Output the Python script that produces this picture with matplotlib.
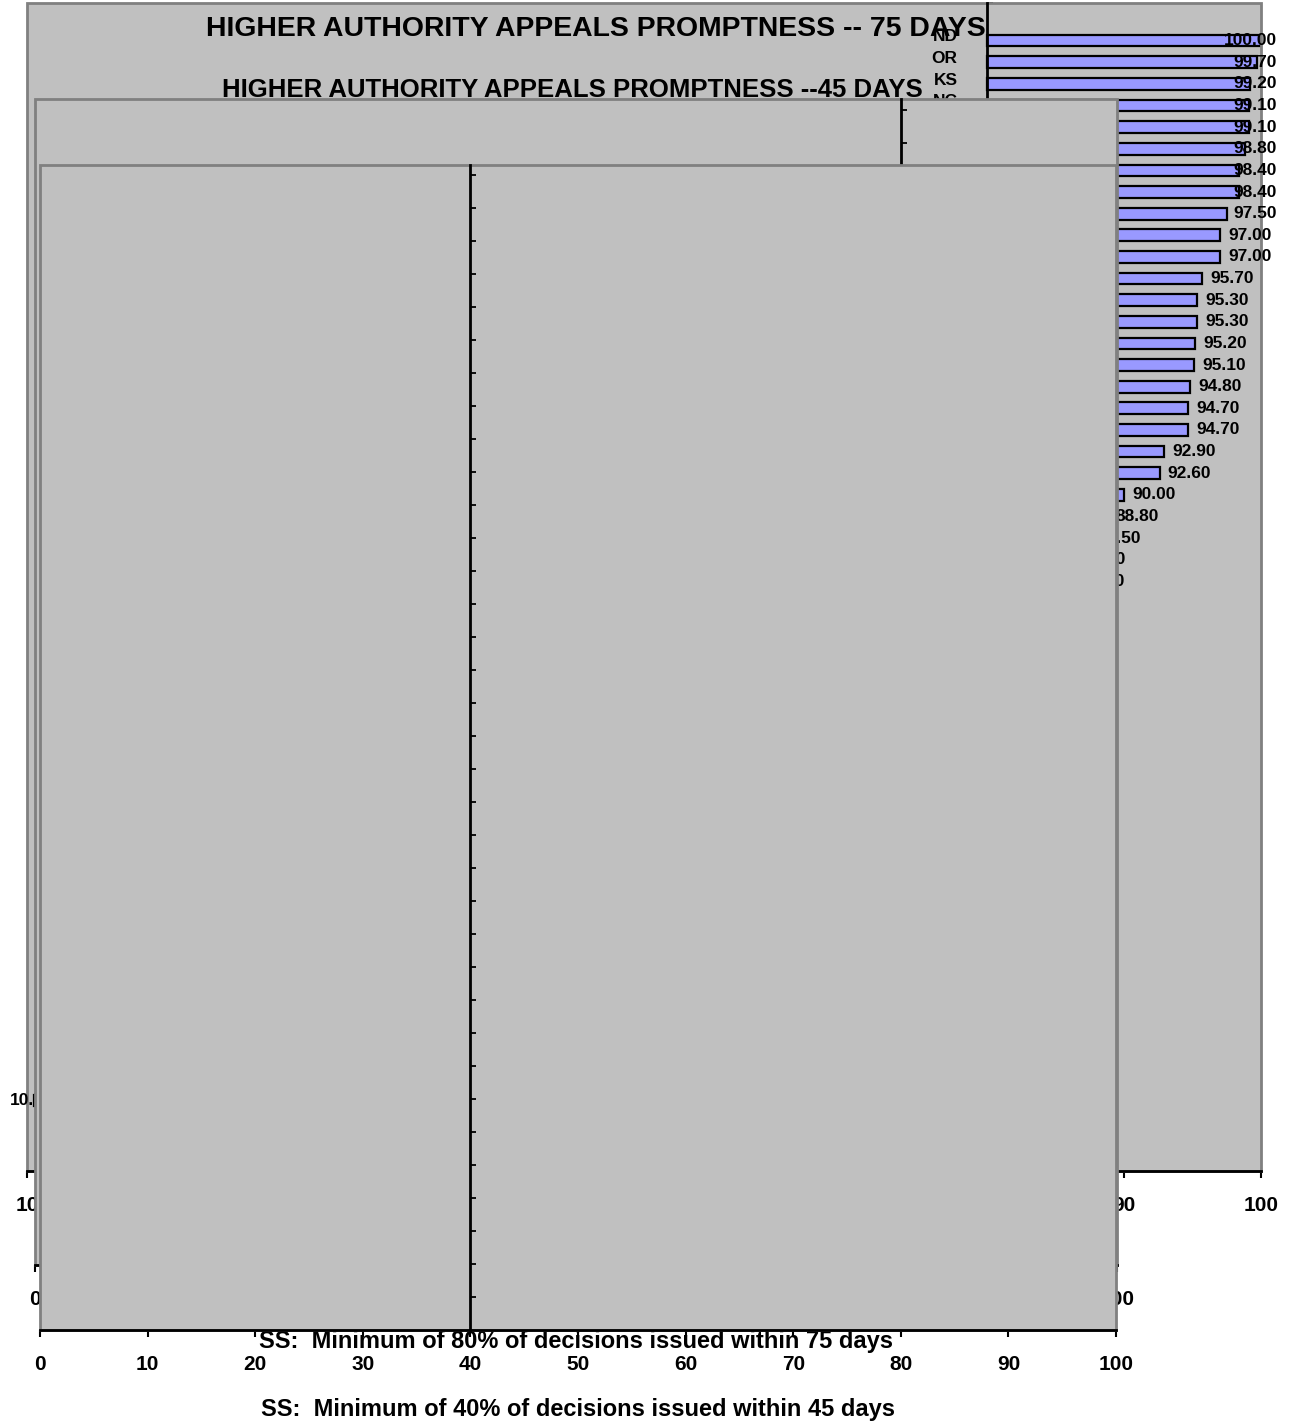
import numpy as np
import matplotlib
matplotlib.use("Agg")
import matplotlib.pyplot as plt
from matplotlib.patches import Rectangle

plt.rcParams['font.family'] = ['Liberation Sans', 'DejaVu Sans']
plt.rcParams['font.weight'] = 'bold'

# 1. Data
title_75 = "HIGHER AUTHORITY APPEALS PROMPTNESS -- 75 DAYS"
title_45 = "HIGHER AUTHORITY APPEALS PROMPTNESS --45 DAYS"
xlabel_75 = "SS:  Minimum of 80% of decisions issued within 75 days"
xlabel_45 = "SS:  Minimum of 40% of decisions issued within 45 days"

states_75 = ["ND", "OR", "KS", "NC", "UT", "MN", "WI", "SD", "MT", "IA",
             "WY", "NE", "ID", "ME", "VT", "NH", "AK", "WA", "MO", "IN",
             "SC", "AR", "OK", "VA", "MS", "TN", "NM", "KY", "AL", "DE",
             "HI", "WV", "GA", "CO", "NV", "LA", "TX", "OH", "MI", "IL",
             "PA", "MD", "NJ", "CT", "RI", "MA", "AZ", "NY", "FL", "CA"]
pct_75 = [100.00, 99.70, 99.20, 99.10, 99.10, 98.80, 98.40, 98.40, 97.50, 97.00,
          97.00, 95.70, 95.30, 95.30, 95.20, 95.10, 94.80, 94.70, 94.70, 92.90,
          92.60, 90.00, 88.80, 87.50, 86.40, 86.30, 85.50, 85.00, 84.20, 83.60,
          82.10, 81.40, 80.70, 72.90, 71.50, 70.00, 68.30, 66.10, 64.40, 62.00,
          59.20, 56.70, 53.30, 50.10, 46.60, 42.80, 38.10, 33.20, 24.50, 10.50]

standard_75 = 80   # axis crossing of the 75 day chart
standard_45 = 40   # axis crossing of the 45 day chart
standard_45_copy = 80

# 2. Layout (pixel boxes on a 1290 x 1422 canvas)
W, H = 1290, 1422
fig = plt.figure(figsize=(W / 100, H / 100), dpi=100)

def px_axes(x0, y0, x1, y1):
    return fig.add_axes([x0 / W, 1 - y1 / H, (x1 - x0) / W, (y1 - y0) / H])

GRAY = '#C0C0C0'
BORDER = '#808080'
BAR = '#9999FF'


def style_panel(ax, cross, xmin, n_slots, top_gap, yticks):
    ax.set_facecolor(GRAY)
    ax.set_xlim(xmin, 100)
    ax.set_ylim(n_slots, -top_gap)
    for s in ['top', 'right']:
        ax.spines[s].set_visible(False)
    ax.spines['bottom'].set_color('black')
    ax.spines['bottom'].set_linewidth(2)
    ax.spines['left'].set_position(('data', cross))
    ax.spines['left'].set_color('black')
    ax.spines['left'].set_linewidth(2)
    # plot area border
    ax.add_patch(Rectangle((0, 0), 1, 1, transform=ax.transAxes, fill=False,
                           ec=BORDER, lw=2, clip_on=False, zorder=2.4))
    ax.set_xticks(np.arange(xmin, 101, 10))
    ax.tick_params(axis='x', direction='out', length=5, width=1.5,
                   labelsize=15, pad=13)
    ax.set_yticks(yticks)
    ax.tick_params(axis='y', which='major', direction='in', length=4,
                   width=1.3, labelleft=False)


ax1 = px_axes(27, 3, 1261, 1171)
ax2 = px_axes(35, 99, 1117, 1265)
ax3 = px_axes(40, 165, 1116, 1330)
ax1.set_zorder(1)
ax2.set_zorder(2)
ax3.set_zorder(3)

style_panel(ax1, standard_75, 10, 54, 0, [0] + list(range(2, 55)))
style_panel(ax2, standard_45_copy, 0, 35, 0.33, np.arange(0, 36))
style_panel(ax3, standard_45, 0, 35, 0.30, np.arange(0, 36))

# 3. Bars of the 75 day chart, drawn out from the 80% crossing
slot = np.arange(len(states_75)) + 1.5
bar_y = slot + 0.24
ax1.barh(bar_y, np.array(pct_75) - standard_75, left=standard_75, height=0.54,
         color=BAR, edgecolor='black', linewidth=1.6, zorder=2)

ax1.set_yticks(slot, states_75, minor=True)
ax1.tick_params(axis='y', which='minor', length=0, pad=21, labelsize=12.5,
                labelleft=True)

value_labels = []
for v, y in zip(pct_75, bar_y):
    if v >= standard_75:
        t = ax1.annotate(f"{v:.2f}", xy=(v, y), xytext=(6, 0),
                         textcoords='offset points', ha='left', va='center',
                         fontsize=12.5, annotation_clip=False)
    else:
        t = ax1.annotate(f"{v:.2f}", xy=(v, y), xytext=(-6, 0),
                         textcoords='offset points', ha='right', va='center',
                         fontsize=12.5, annotation_clip=False)
    value_labels.append(t)

# titles and axis captions
ax1.text((596 - 27) / 1234, 1 - 33 / 1168, title_75, transform=ax1.transAxes,
         ha='center', va='baseline', fontsize=20.4)
ax2.text((572 - 35) / 1082, 1 + 2 / 1166, title_45, transform=ax2.transAxes,
         ha='center', va='baseline', fontsize=18.5, clip_on=False)
ax2.set_xlabel(xlabel_75, fontsize=17, fontweight='bold', labelpad=15)
ax3.set_xlabel(xlabel_45, fontsize=17, fontweight='bold', labelpad=17)

# keep data labels inside the chart area
fig.canvas.draw()
r = fig.canvas.get_renderer()
left_px, right_px = 10, 1277
for t in value_labels:
    bb = t.get_window_extent(r)
    dx, dy = t.xyann
    if bb.x1 > right_px:
        t.xyann = (dx - (bb.x1 - right_px) * 72 / fig.dpi, dy)
    elif bb.x0 < left_px:
        t.xyann = (dx + (left_px - bb.x0) * 72 / fig.dpi, dy)

fig.savefig("out.png", dpi=100, facecolor='white')
